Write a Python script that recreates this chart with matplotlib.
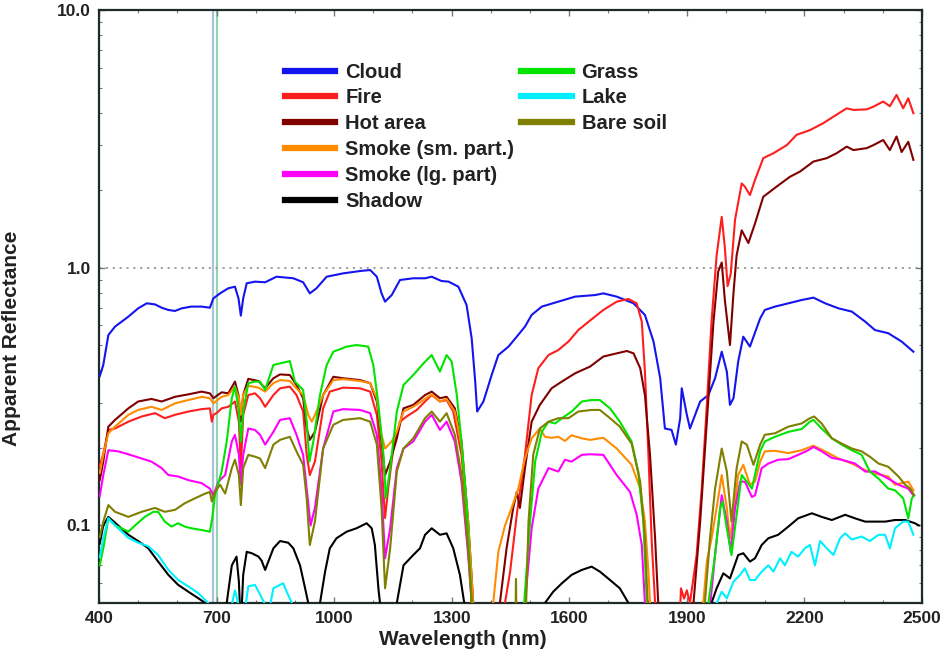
import matplotlib
matplotlib.use("Agg")
import matplotlib.pyplot as plt
from matplotlib.ticker import FixedLocator, MultipleLocator, NullFormatter

plt.rcParams["font.family"] = ["Liberation Sans", "DejaVu Sans"]

# ---- spectra (values < 0.05 = below the axis) ----
cloud_wl = [402, 411, 424, 441, 475, 500, 522, 543, 560, 577, 594, 611, 636, 662, 683, 692,
            709, 730, 747, 756, 762, 768, 777, 798, 824, 853, 896, 921, 938, 955, 981, 1023,
            1066, 1092, 1109, 1121, 1130, 1147, 1168, 1202, 1232, 1249, 1274, 1292, 1317,
            1338, 1351, 1360, 1365, 1381, 1402, 1419, 1445, 1466, 1487, 1504, 1530, 1572,
            1615, 1666, 1687, 1721, 1764, 1793, 1815, 1832, 1844, 1861, 1872, 1883, 1887,
            1900, 1908, 1934, 1955, 1972, 1989, 2002, 2010, 2019, 2031, 2044, 2061, 2087,
            2099, 2125, 2159, 2193, 2223, 2253, 2287, 2321, 2355, 2380, 2414, 2448, 2478]
cloud_r = [0.38, 0.42, 0.549, 0.592, 0.647, 0.697, 0.729, 0.722, 0.701, 0.687, 0.681, 0.697,
           0.708, 0.708, 0.701, 0.762, 0.797, 0.834, 0.846, 0.762, 0.653, 0.762, 0.872, 0.885,
           0.880, 0.925, 0.912, 0.880, 0.797, 0.834, 0.925, 0.953, 0.973, 0.982, 0.925, 0.797,
           0.740, 0.785, 0.898, 0.912, 0.912, 0.925, 0.890, 0.885, 0.846, 0.718, 0.533, 0.362,
           0.277, 0.303, 0.384, 0.459, 0.495, 0.541, 0.592, 0.657, 0.708, 0.740, 0.774, 0.785,
           0.797, 0.774, 0.729, 0.657, 0.518, 0.373, 0.238, 0.235, 0.206, 0.261, 0.341, 0.269,
           0.238, 0.303, 0.321, 0.373, 0.473, 0.396, 0.294, 0.312, 0.433, 0.541, 0.495, 0.637,
           0.687, 0.708, 0.729, 0.751, 0.767, 0.729, 0.697, 0.677, 0.619, 0.574, 0.558, 0.518,
           0.473]

fire_wl = [402, 411, 424, 441, 475, 509, 543, 568, 594, 628, 662, 683, 688, 692, 700, 713,
           730, 747, 757, 762, 768, 781, 798, 811, 824, 845, 862, 887, 904, 921, 930, 938,
           951, 972, 989, 1023, 1066, 1092, 1109, 1121, 1130, 1138, 1151, 1168, 1185, 1211,
           1232, 1249, 1270, 1287, 1304, 1325, 1342, 1351, 1356, 1432, 1436, 1449, 1466,
           1487, 1504, 1521, 1547, 1572, 1598, 1623, 1653, 1687, 1721, 1751, 1772, 1785,
           1793, 1802, 1810, 1819, 1824, 1878, 1885, 1893, 1900, 1908, 1925, 1938, 1951,
           1963, 1976, 1989, 1997, 2004, 2012, 2023, 2040, 2048, 2061, 2074, 2095, 2121,
           2155, 2180, 2214, 2248, 2274, 2308, 2325, 2359, 2376, 2401, 2418, 2435, 2452,
           2465, 2478]
fire_r = [0.17, 0.19, 0.235, 0.238, 0.253, 0.265, 0.273, 0.261, 0.269, 0.277, 0.283, 0.285,
          0.253, 0.269, 0.273, 0.285, 0.289, 0.303, 0.253, 0.167, 0.269, 0.321, 0.326, 0.312,
          0.289, 0.321, 0.341, 0.346, 0.321, 0.277, 0.188, 0.157, 0.177, 0.285, 0.331, 0.343,
          0.341, 0.331, 0.269, 0.177, 0.107, 0.139, 0.199, 0.253, 0.265, 0.281, 0.303, 0.321,
          0.303, 0.307, 0.277, 0.188, 0.0975, 0.05, 0.02, 0.02, 0.05, 0.066, 0.110, 0.188,
          0.321, 0.408, 0.459, 0.480, 0.518, 0.574, 0.625, 0.687, 0.740, 0.758, 0.729, 0.619,
          0.396, 0.188, 0.089, 0.05, 0.02, 0.03, 0.057, 0.052, 0.056, 0.05, 0.077, 0.139,
          0.294, 0.619, 1.12, 1.58, 1.2, 0.85, 0.95, 1.54, 2.13, 2.07, 1.92, 2.20, 2.67, 2.79,
          3.0, 3.29, 3.43, 3.65, 3.87, 4.17, 4.11, 4.13, 4.23, 4.43, 4.25, 4.70, 4.17, 4.56,
          3.99]

hot_wl = [402, 411, 424, 441, 475, 500, 534, 560, 594, 628, 662, 683, 692, 713, 730, 747,
          756, 762, 768, 781, 807, 824, 845, 862, 887, 904, 921, 930, 938, 951, 972, 998,
          1023, 1066, 1092, 1109, 1121, 1130, 1143, 1160, 1177, 1202, 1232, 1249, 1270, 1287,
          1308, 1325, 1342, 1355, 1360, 1418, 1423, 1440, 1457, 1466, 1474, 1487, 1504, 1525,
          1555, 1581, 1615, 1653, 1687, 1721, 1747, 1764, 1781, 1793, 1806, 1819, 1827, 1832,
          1912, 1917, 1934, 1951, 1968, 1980, 1989, 1997, 2010, 2019, 2027, 2040, 2057, 2074,
          2095, 2129, 2163, 2189, 2223, 2257, 2282, 2308, 2325, 2359, 2376, 2401, 2418, 2435,
          2448, 2465, 2478]
hot_r = [0.15, 0.177, 0.242, 0.257, 0.285, 0.303, 0.310, 0.303, 0.316, 0.323, 0.331, 0.326,
         0.312, 0.329, 0.326, 0.362, 0.321, 0.253, 0.321, 0.371, 0.364, 0.341, 0.373, 0.386,
         0.384, 0.351, 0.312, 0.238, 0.215, 0.231, 0.321, 0.378, 0.373, 0.367, 0.357, 0.303,
         0.212, 0.157, 0.177, 0.218, 0.285, 0.294, 0.321, 0.331, 0.312, 0.316, 0.285, 0.212,
         0.1035, 0.05, 0.02, 0.02, 0.05, 0.0815, 0.117, 0.135, 0.117, 0.167, 0.253, 0.294,
         0.341, 0.362, 0.390, 0.414, 0.453, 0.466, 0.476, 0.466, 0.408, 0.321, 0.188, 0.089,
         0.05, 0.02, 0.02, 0.05, 0.1035, 0.253, 0.619, 0.968, 1.05, 0.75, 0.502, 0.8, 1.12,
         1.40, 1.25, 1.49, 1.89, 2.07, 2.26, 2.37, 2.59, 2.67, 2.79, 2.96, 2.87, 2.92, 3.0,
         3.14, 2.87, 3.24, 2.82, 3.09, 2.63]

smoke_sm_wl = [402, 411, 424, 441, 475, 500, 534, 560, 594, 628, 662, 683, 692, 713, 730,
               747, 757, 762, 768, 781, 807, 824, 845, 862, 887, 904, 921, 934, 943, 955,
               972, 998, 1023, 1066, 1092, 1109, 1121, 1130, 1147, 1160, 1177, 1202, 1232,
               1249, 1270, 1287, 1308, 1325, 1342, 1355, 1360, 1400, 1406, 1419, 1436, 1453,
               1470, 1487, 1504, 1525, 1538, 1555, 1572, 1589, 1606, 1632, 1653, 1687, 1721,
               1759, 1781, 1793, 1802, 1806, 1810, 1937, 1942, 1951, 1963, 1976, 1989, 2002,
               2010, 2019, 2031, 2044, 2061, 2074, 2087, 2099, 2125, 2159, 2193, 2223, 2253,
               2287, 2321, 2355, 2380, 2414, 2431, 2465, 2478]
smoke_sm_r = [0.16, 0.188, 0.228, 0.242, 0.269, 0.281, 0.289, 0.281, 0.298, 0.307, 0.316,
              0.312, 0.298, 0.316, 0.321, 0.346, 0.312, 0.269, 0.321, 0.349, 0.343, 0.331,
              0.357, 0.367, 0.364, 0.341, 0.321, 0.269, 0.253, 0.277, 0.321, 0.367, 0.370,
              0.364, 0.357, 0.312, 0.225, 0.199, 0.212, 0.231, 0.277, 0.289, 0.310, 0.323,
              0.303, 0.310, 0.277, 0.206, 0.1035, 0.05, 0.02, 0.02, 0.05, 0.079, 0.100, 0.117,
              0.139, 0.182, 0.218, 0.238, 0.221, 0.219, 0.221, 0.213, 0.224, 0.218, 0.215,
              0.219, 0.199, 0.172, 0.139, 0.1035, 0.066, 0.05, 0.02, 0.02, 0.05, 0.0724, 0.089,
              0.117, 0.157, 0.117, 0.089, 0.110, 0.157, 0.172, 0.144, 0.148, 0.177, 0.194,
              0.195, 0.191, 0.196, 0.204, 0.194, 0.182, 0.174, 0.164, 0.159, 0.155, 0.144,
              0.148, 0.137]

smoke_lg_wl = [402, 411, 424, 449, 475, 509, 534, 560, 577, 602, 628, 662, 683, 692, 705,
               722, 739, 747, 757, 762, 768, 781, 798, 811, 824, 845, 862, 887, 904, 921,
               930, 940, 951, 972, 998, 1023, 1066, 1092, 1109, 1121, 1130, 1143, 1160,
               1177, 1202, 1232, 1249, 1270, 1287, 1308, 1325, 1342, 1351, 1356, 1482, 1487,
               1504, 1521, 1547, 1572, 1589, 1606, 1632, 1653, 1687, 1721, 1755, 1772, 1785,
               1793, 1798, 1955, 1960, 1972, 1989, 2002, 2012, 2023, 2036, 2048, 2066, 2074,
               2091, 2108, 2133, 2159, 2184, 2210, 2223, 2244, 2270, 2295, 2329, 2355, 2380,
               2414, 2440, 2465, 2478]
smoke_lg_r = [0.13, 0.157, 0.196, 0.194, 0.189, 0.182, 0.177, 0.167, 0.157, 0.155, 0.150,
              0.146, 0.139, 0.131, 0.148, 0.157, 0.212, 0.225, 0.188, 0.144, 0.188, 0.238,
              0.235, 0.225, 0.206, 0.231, 0.257, 0.261, 0.225, 0.188, 0.139, 0.100, 0.117,
              0.199, 0.277, 0.283, 0.281, 0.273, 0.225, 0.139, 0.0746, 0.0975, 0.167, 0.199,
              0.212, 0.253, 0.269, 0.235, 0.253, 0.212, 0.148, 0.0768, 0.05, 0.02, 0.02, 0.05,
              0.0975, 0.139, 0.167, 0.162, 0.180, 0.177, 0.188, 0.189, 0.188, 0.157, 0.135,
              0.110, 0.084, 0.05, 0.02, 0.02, 0.05, 0.0768, 0.131, 0.1035, 0.079, 0.117, 0.148,
              0.148, 0.129, 0.131, 0.167, 0.174, 0.180, 0.181, 0.188, 0.196, 0.202, 0.194,
              0.183, 0.180, 0.174, 0.162, 0.162, 0.152, 0.144, 0.139, 0.131]

shadow_wl = [402, 411, 424, 449, 475, 500, 526, 551, 577, 602, 628, 654, 671, 676, 721, 726,
             739, 751, 757, 762, 768, 777, 790, 807, 815, 824, 845, 862, 883, 896, 913, 926,
             934, 939, 959, 964, 977, 989, 1006, 1032, 1057, 1083, 1096, 1104, 1113, 1117,
             1122, 1155, 1160, 1177, 1202, 1219, 1232, 1249, 1270, 1287, 1304, 1321, 1332,
             1337, 1533, 1538, 1559, 1581, 1606, 1632, 1657, 1678, 1704, 1729, 1751, 1756,
             1958, 1963, 1976, 1993, 2010, 2031, 2044, 2061, 2074, 2091, 2108, 2133, 2159,
             2184, 2219, 2244, 2270, 2304, 2329, 2355, 2380, 2406, 2431, 2457, 2482, 2492]
shadow_r = [0.085, 0.100, 0.108, 0.100, 0.092, 0.087, 0.0815, 0.0724, 0.0643, 0.0588, 0.0553,
            0.0521, 0.05, 0.02, 0.02, 0.05, 0.07, 0.0757, 0.0605, 0.04, 0.0643, 0.079, 0.078,
            0.0757, 0.073, 0.0672, 0.0815, 0.087, 0.0857, 0.0815, 0.07, 0.057, 0.05, 0.02,
            0.02, 0.05, 0.0662, 0.0815, 0.0892, 0.0946, 0.0975, 0.102, 0.0975, 0.084, 0.057,
            0.05, 0.02, 0.02, 0.05, 0.07, 0.0768, 0.0815, 0.092, 0.0975, 0.092, 0.0932, 0.0815,
            0.0643, 0.05, 0.02, 0.02, 0.05, 0.0553, 0.0596, 0.0643, 0.0672, 0.0692, 0.0662,
            0.0614, 0.057, 0.05, 0.02, 0.02, 0.05, 0.057, 0.0652, 0.0623, 0.0768, 0.078,
            0.0724, 0.0746, 0.084, 0.0892, 0.092, 0.099, 0.1066, 0.1115, 0.108, 0.105, 0.110,
            0.1066, 0.1035, 0.1035, 0.1035, 0.105, 0.105, 0.102, 0.100]

grass_wl = [402, 411, 424, 441, 458, 475, 492, 517, 539, 551, 568, 585, 602, 619, 636, 662,
            683, 689, 696, 713, 726, 739, 747, 757, 762, 768, 781, 798, 811, 824, 845, 862,
            887, 900, 921, 930, 937, 947, 964, 981, 998, 1032, 1057, 1087, 1100, 1113, 1126,
            1132, 1143, 1160, 1177, 1202, 1228, 1249, 1270, 1287, 1300, 1313, 1325, 1338,
            1351, 1355, 1480, 1485, 1500, 1513, 1530, 1547, 1564, 1581, 1606, 1632, 1657,
            1678, 1704, 1729, 1759, 1776, 1789, 1798, 1802, 1950, 1955, 1972, 1985, 1991,
            2002, 2014, 2027, 2040, 2053, 2066, 2087, 2099, 2125, 2159, 2193, 2214, 2223,
            2244, 2270, 2295, 2321, 2346, 2367, 2389, 2414, 2431, 2452, 2465, 2474, 2480]
grass_r = [0.07, 0.0815, 0.1066, 0.100, 0.0975, 0.0946, 0.100, 0.108, 0.113, 0.113, 0.1035,
           0.099, 0.102, 0.099, 0.0975, 0.096, 0.0946, 0.1066, 0.131, 0.162, 0.212, 0.312,
           0.346, 0.277, 0.212, 0.277, 0.357, 0.362, 0.362, 0.336, 0.420, 0.426, 0.435, 0.362,
           0.336, 0.253, 0.177, 0.212, 0.321, 0.420, 0.473, 0.495, 0.502, 0.495, 0.420, 0.294,
           0.188, 0.1275, 0.167, 0.277, 0.351, 0.384, 0.426, 0.459, 0.396, 0.459, 0.433, 0.321,
           0.212, 0.120, 0.05, 0.02, 0.02, 0.05, 0.1035, 0.177, 0.231, 0.253, 0.249, 0.261,
           0.277, 0.303, 0.307, 0.307, 0.285, 0.253, 0.212, 0.162, 0.1035, 0.05, 0.02, 0.02,
           0.05, 0.0768, 0.117, 0.124, 0.0975, 0.0768, 0.110, 0.157, 0.148, 0.139, 0.194,
           0.212, 0.221, 0.231, 0.237, 0.253, 0.257, 0.238, 0.218, 0.206, 0.196, 0.188, 0.162,
           0.152, 0.139, 0.137, 0.1275, 0.1066, 0.1275, 0.131]

lake_wl = [402, 411, 424, 449, 475, 500, 526, 551, 577, 602, 628, 654, 679, 684, 735, 740,
           747, 755, 760, 770, 775, 781, 798, 811, 822, 828, 838, 845, 862, 870, 879, 892,
           898, 1972, 1976, 1989, 2002, 2019, 2036, 2048, 2061, 2074, 2091, 2108, 2121, 2138,
           2150, 2167, 2184, 2201, 2214, 2227, 2240, 2257, 2274, 2291, 2304, 2321, 2346,
           2367, 2389, 2406, 2418, 2431, 2452, 2465, 2478]
lake_r = [0.075, 0.089, 0.1066, 0.0975, 0.0895, 0.0857, 0.083, 0.0768, 0.0672, 0.0614, 0.058,
          0.0545, 0.05, 0.02, 0.02, 0.05, 0.056, 0.05, 0.02, 0.02, 0.05, 0.058, 0.0588, 0.054,
          0.05, 0.045, 0.05, 0.057, 0.0588, 0.0596, 0.0553, 0.05, 0.02, 0.02, 0.05, 0.0553,
          0.0521, 0.0605, 0.0643, 0.0682, 0.0614, 0.0614, 0.0662, 0.07, 0.0662, 0.0746, 0.07,
          0.079, 0.0757, 0.0815, 0.084, 0.07, 0.087, 0.0815, 0.0768, 0.0892, 0.0932, 0.0882,
          0.0906, 0.087, 0.092, 0.092, 0.0815, 0.0975, 0.1035, 0.1035, 0.092]

soil_wl = [402, 411, 424, 441, 475, 509, 543, 568, 594, 619, 645, 671, 683, 688, 696, 709,
           722, 739, 747, 757, 762, 768, 781, 798, 811, 824, 845, 862, 887, 904, 921, 930,
           938, 951, 972, 998, 1023, 1066, 1092, 1109, 1121, 1130, 1143, 1160, 1177, 1202,
           1232, 1249, 1270, 1287, 1308, 1325, 1342, 1351, 1355, 1460, 1464, 1468, 1487,
           1490, 1496, 1508, 1525, 1547, 1572, 1598, 1623, 1657, 1678, 1704, 1729, 1759,
           1781, 1793, 1800, 1805, 1941, 1946, 1959, 1972, 1989, 2002, 2014, 2027, 2040,
           2053, 2070, 2087, 2099, 2125, 2159, 2193, 2214, 2225, 2244, 2270, 2295, 2321,
           2346, 2367, 2389, 2414, 2440, 2457, 2470, 2480]
soil_r = [0.09, 0.1035, 0.120, 0.113, 0.108, 0.113, 0.117, 0.113, 0.115, 0.122, 0.1275,
          0.133, 0.135, 0.124, 0.135, 0.144, 0.133, 0.167, 0.180, 0.157, 0.120, 0.167, 0.188,
          0.185, 0.182, 0.167, 0.206, 0.215, 0.221, 0.194, 0.172, 0.1275, 0.084, 0.1035,
          0.199, 0.246, 0.257, 0.261, 0.253, 0.206, 0.117, 0.057, 0.0815, 0.162, 0.199, 0.218,
          0.261, 0.277, 0.253, 0.273, 0.225, 0.157, 0.0815, 0.05, 0.02, 0.02, 0.062, 0.02,
          0.02, 0.05, 0.1035, 0.188, 0.238, 0.253, 0.261, 0.261, 0.277, 0.281, 0.281, 0.261,
          0.242, 0.208, 0.148, 0.089, 0.05, 0.02, 0.02, 0.05, 0.089, 0.139, 0.199, 0.162,
          0.1035, 0.167, 0.212, 0.206, 0.172, 0.206, 0.225, 0.228, 0.242, 0.249, 0.261, 0.265,
          0.249, 0.218, 0.208, 0.199, 0.194, 0.185, 0.174, 0.169, 0.155, 0.144, 0.139, 0.131]

col1 = [("Cloud", cloud_wl, cloud_r, "#1414f0"),
        ("Fire", fire_wl, fire_r, "#ff1e1e"),
        ("Hot area", hot_wl, hot_r, "#800000"),
        ("Smoke (sm. part.)", smoke_sm_wl, smoke_sm_r, "#ff8c00"),
        ("Smoke (lg. part)", smoke_lg_wl, smoke_lg_r, "#ff00ff"),
        ("Shadow", shadow_wl, shadow_r, "#000000")]
col2 = [("Grass", grass_wl, grass_r, "#00e400"),
        ("Lake", lake_wl, lake_r, "#00f0ff"),
        ("Bare soil", soil_wl, soil_r, "#7f7f00")]

fig = plt.figure(figsize=(9.47, 6.64), dpi=100)
ax = fig.add_axes([0.1045, 0.0919, 0.8691, 0.8923])

# reference lines
ax.axvline(692, color="#a9c3da", lw=1.6, zorder=1)
ax.axvline(701, color="#94d3b2", lw=1.6, zorder=1)
ax.axhline(1.0, color="#9a9a9a", lw=1.3, ls=(0, (1.2, 2.6)), zorder=1)

h1, h2 = [], []
for lab, wl, r, c in col1:
    h1 += ax.plot(wl, r, color=c, lw=1.5, label=lab, zorder=3)
for lab, wl, r, c in col2:
    h2 += ax.plot(wl, r, color=c, lw=1.5, label=lab, zorder=3)

ax.set_yscale("log")
ax.set_xlim(400, 2500)
ax.set_ylim(0.05, 10)
ax.xaxis.set_major_locator(FixedLocator([400, 700, 1000, 1300, 1600, 1900, 2200, 2500]))
ax.xaxis.set_minor_locator(MultipleLocator(100))
ax.yaxis.set_major_locator(FixedLocator([0.1, 1.0, 10.0]))
ax.set_yticklabels(["0.1", "1.0", "10.0"])
ax.yaxis.set_minor_formatter(NullFormatter())
ax.tick_params(which="both", direction="in", top=True, right=True, color="#777777")
ax.tick_params(which="major", length=4, width=1.0, labelsize=12.5, pad=6)
ax.tick_params(which="minor", length=2, width=0.8)
for t in ax.get_xticklabels() + ax.get_yticklabels():
    t.set_fontweight("bold")
    t.set_color("#222222")
for s in ax.spines.values():
    s.set_color("#1f2b2b")
    s.set_linewidth(1.6)

ax.set_xlabel("Wavelength (nm)", fontsize=15, fontweight="bold", color="#222222")
ax.set_ylabel("Apparent Reflectance", fontsize=15, fontweight="bold", color="#222222")
ax.xaxis.set_label_coords(0.442, -0.045)
ax.yaxis.set_label_coords(-0.095, 0.447)

legkw = dict(frameon=False, handlelength=2.5, handletextpad=0.5,
             labelspacing=0.34, borderpad=0, borderaxespad=0, loc="upper left",
             prop={"weight": "bold", "size": 14.5})
leg1 = ax.legend(handles=h1, bbox_to_anchor=(0.226, 0.912), **legkw)
ax.add_artist(leg1)
leg2 = ax.legend(handles=h2, bbox_to_anchor=(0.513, 0.912), **legkw)
for lg in (leg1, leg2):
    for ln in lg.get_lines():
        ln.set_linewidth(4.5)
    for tx in lg.get_texts():
        tx.set_color("#222222")

fig.savefig("out.png", dpi=100, facecolor="white")
